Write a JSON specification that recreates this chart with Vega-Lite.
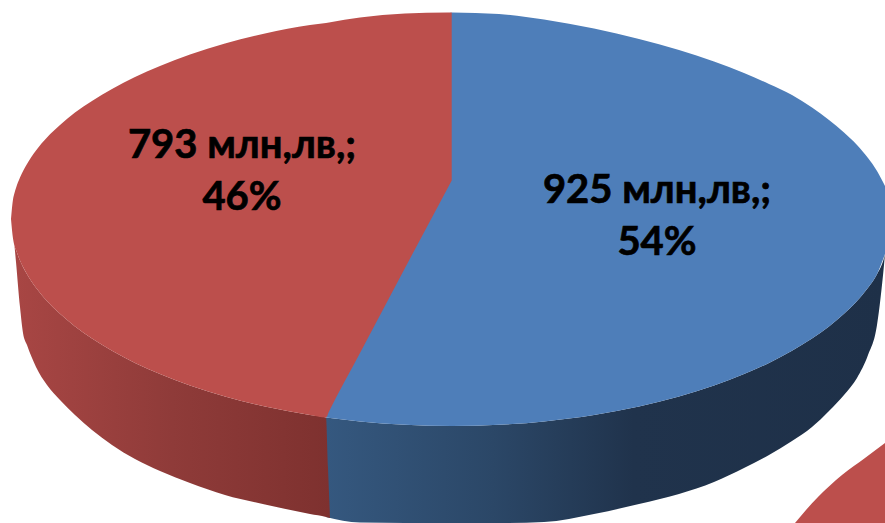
{
  "$schema": "https://vega.github.io/schema/vega-lite/v6.json",
  "width": 885,
  "height": 523,
  "padding": 0,
  "autosize": {"type": "none"},
  "background": "white",
  "config": {"view": {"stroke": null}},
  "datasets": {
    "outline": [
      {"part":"blueSide","u":326,"v":417.4,"v2":517},
      {"part":"blueSide","u":360,"v":421.4,"v2":522.5},
      {"part":"blueSide","u":405,"v":424.8,"v2":523},
      {"part":"blueSide","u":452,"v":426,"v2":523},
      {"part":"blueSide","u":499,"v":424.8,"v2":523},
      {"part":"blueSide","u":544,"v":421.4,"v2":522},
      {"part":"blueSide","u":594,"v":415,"v2":514},
      {"part":"blueSide","u":639,"v":406.5,"v2":504},
      {"part":"blueSide","u":679,"v":396.5,"v2":494},
      {"part":"blueSide","u":714,"v":385.5,"v2":482},
      {"part":"blueSide","u":744,"v":374.1,"v2":468},
      {"part":"blueSide","u":769,"v":362.9,"v2":455},
      {"part":"blueSide","u":792,"v":350.8,"v2":441},
      {"part":"blueSide","u":812,"v":338.6,"v2":427},
      {"part":"blueSide","u":829,"v":326.4,"v2":411},
      {"part":"blueSide","u":844,"v":313.8,"v2":395},
      {"part":"blueSide","u":857,"v":300.9,"v2":378},
      {"part":"blueSide","u":868,"v":287.7,"v2":355},
      {"part":"blueSide","u":877,"v":274.2,"v2":325},
      {"part":"blueSide","u":884,"v":258,"v2":265},
      {"part":"blueSide","u":885,"v":254,"v2":254},

      {"part":"redSide","u":14.5,"v":246,"v2":246},
      {"part":"redSide","u":16,"v":250,"v2":262},
      {"part":"redSide","u":20,"v":260.6,"v2":307},
      {"part":"redSide","u":23,"v":267,"v2":333},
      {"part":"redSide","u":27,"v":274.2,"v2":345},
      {"part":"redSide","u":36,"v":287.7,"v2":367},
      {"part":"redSide","u":47,"v":300.9,"v2":385},
      {"part":"redSide","u":60,"v":313.8,"v2":400},
      {"part":"redSide","u":75,"v":326.4,"v2":415},
      {"part":"redSide","u":92,"v":338.6,"v2":430},
      {"part":"redSide","u":112,"v":350.8,"v2":445},
      {"part":"redSide","u":135,"v":362.9,"v2":459},
      {"part":"redSide","u":160,"v":374.1,"v2":471},
      {"part":"redSide","u":190,"v":385.5,"v2":483},
      {"part":"redSide","u":225,"v":396.5,"v2":495},
      {"part":"redSide","u":265,"v":406.5,"v2":504.5},
      {"part":"redSide","u":310,"v":415,"v2":514},
      {"part":"redSide","u":326,"v":417.4,"v2":517},
      {"part":"redSide","u":328,"v":468,"v2":517.6},
      {"part":"redSide","u":330,"v":518,"v2":518},

      {"part":"blueTop","u":326,"v":417.4,"v2":417.4},
      {"part":"blueTop","u":360,"v":300,"v2":421.4},
      {"part":"blueTop","u":405,"v":150,"v2":424.8},
      {"part":"blueTop","u":452,"v":12.5,"v2":426},
      {"part":"blueTop","u":499,"v":14,"v2":424.8},
      {"part":"blueTop","u":544,"v":19.5,"v2":421.4},
      {"part":"blueTop","u":594,"v":28.5,"v2":415},
      {"part":"blueTop","u":639,"v":39,"v2":406.5},
      {"part":"blueTop","u":679,"v":50,"v2":396.5},
      {"part":"blueTop","u":714,"v":61.5,"v2":385.5},
      {"part":"blueTop","u":744,"v":73,"v2":374.1},
      {"part":"blueTop","u":769,"v":84,"v2":362.9},
      {"part":"blueTop","u":792,"v":95,"v2":350.8},
      {"part":"blueTop","u":812,"v":107.5,"v2":338.6},
      {"part":"blueTop","u":829,"v":120,"v2":326.4},
      {"part":"blueTop","u":844,"v":132.5,"v2":313.8},
      {"part":"blueTop","u":857,"v":145,"v2":300.9},
      {"part":"blueTop","u":868,"v":158,"v2":287.7},
      {"part":"blueTop","u":877,"v":171,"v2":274.2},
      {"part":"blueTop","u":885,"v":186,"v2":254},

      {"part":"redTop","u":11,"v":219,"v2":219},
      {"part":"redTop","u":13,"v":199.5,"v2":238.6},
      {"part":"redTop","u":14.5,"v":193,"v2":246},
      {"part":"redTop","u":16,"v":188,"v2":250},
      {"part":"redTop","u":20,"v":177.5,"v2":260.6},
      {"part":"redTop","u":27,"v":164,"v2":274.2},
      {"part":"redTop","u":36,"v":150.5,"v2":287.7},
      {"part":"redTop","u":47,"v":137.5,"v2":300.9},
      {"part":"redTop","u":60,"v":125,"v2":313.8},
      {"part":"redTop","u":75,"v":112.5,"v2":326.4},
      {"part":"redTop","u":92,"v":101,"v2":338.6},
      {"part":"redTop","u":112,"v":89,"v2":350.8},
      {"part":"redTop","u":135,"v":77,"v2":362.9},
      {"part":"redTop","u":160,"v":66,"v2":374.1},
      {"part":"redTop","u":190,"v":54.5,"v2":385.5},
      {"part":"redTop","u":225,"v":43.5,"v2":396.5},
      {"part":"redTop","u":265,"v":33.5,"v2":406.5},
      {"part":"redTop","u":310,"v":25,"v2":415},
      {"part":"redTop","u":326,"v":23,"v2":417.4},
      {"part":"redTop","u":329,"v":22.5,"v2":411.4},
      {"part":"redTop","u":360,"v":17.5,"v2":353},
      {"part":"redTop","u":405,"v":13.5,"v2":268},
      {"part":"redTop","u":448,"v":12.5,"v2":187.5},
      {"part":"redTop","u":451.7,"v":12.5,"v2":180.5},

      {"part":"nextPie","u":795,"v":523,"v2":523},
      {"part":"nextPie","u":806,"v":510,"v2":523},
      {"part":"nextPie","u":818,"v":497,"v2":523},
      {"part":"nextPie","u":842,"v":475,"v2":523},
      {"part":"nextPie","u":865,"v":458,"v2":523},
      {"part":"nextPie","u":885,"v":443,"v2":523}
    ],
    "slices": [
      {"amount":925,"share":54,"label":"925 млн,лв,;\n54%","u":657,"v":203},
      {"amount":793,"share":46,"label":"793 млн,лв,;\n46%","u":242,"v":158}
    ]
  },
  "data": {"name": "outline"},
  "encoding": {
    "x": {"field":"u","type":"quantitative","axis":null,"scale":{"domain":[0,885],"nice":false,"zero":false}},
    "y": {"field":"v","type":"quantitative","axis":null,"scale":{"domain":[523,0],"nice":false,"zero":false}}
  },
  "layer": [
    {
      "transform": [{"filter":"datum.part === 'blueSide'"}],
      "mark": {"type":"area","interpolate":"monotone","color":{"gradient":"linear","x1":0,"y1":0,"x2":1,"y2":0,"stops":[
        {"offset":0,"color":"#35587F"},
        {"offset":0.3,"color":"#2B4767"},
        {"offset":0.55,"color":"#20334C"},
        {"offset":1,"color":"#1E3048"}
      ]}},
      "encoding": {"y2":{"field":"v2"}}
    },
    {
      "transform": [{"filter":"datum.part === 'redSide'"}],
      "mark": {"type":"area","interpolate":"monotone","color":{"gradient":"linear","x1":0,"y1":0,"x2":1,"y2":0,"stops":[
        {"offset":0,"color":"#A84644"},
        {"offset":0.5,"color":"#8F3B39"},
        {"offset":1,"color":"#7E312F"}
      ]}},
      "encoding": {"y2":{"field":"v2"}}
    },
    {
      "transform": [{"filter":"datum.part === 'blueTop'"}],
      "mark": {"type":"area","interpolate":"monotone","color":"#4E7EB9"},
      "encoding": {"y2":{"field":"v2"}}
    },
    {
      "transform": [{"filter":"datum.part === 'redTop' || datum.part === 'nextPie'"}],
      "mark": {"type":"area","interpolate":"monotone","color":"#BC4F4C"},
      "encoding": {"y2":{"field":"v2"},"detail":{"field":"part"}}
    },
    {
      "data": {"name": "slices"},
      "mark": {"type":"text","font":"Lato","fontWeight":"bold","fontSize":40,"lineHeight":52,"lineBreak":"\n","align":"center","baseline":"alphabetic","color":"#000000","stroke":"#000000","strokeWidth":0.7},
      "encoding": {"text":{"field":"label"}}
    }
  ]
}
